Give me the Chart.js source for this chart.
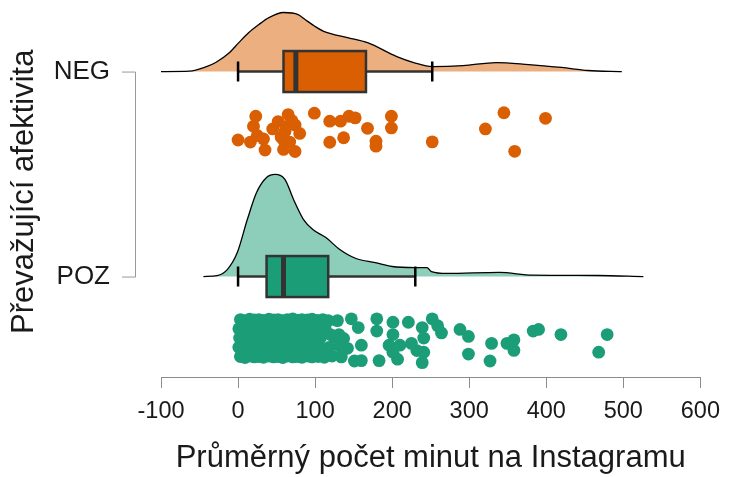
<!DOCTYPE html>
<html>
<head>
<meta charset="utf-8">
<script src="https://cdn.jsdelivr.net/npm/chart.js@4"></script>
<style>
  body { margin: 0; background: #ffffff; }
  #wrap { width: 729px; height: 477px; }
</style>
</head>
<body>
<div id="wrap"><canvas id="rain"></canvas></div>
<script>
// Raincloud: density + box + jittered points, per group

const groups = ["NEG", "POZ"];
const xTickValues = [-100, 0, 100, 200, 300, 400, 500, 600];

// half-violin density (height in group-spacing units)
const negDensityX = [-100, -63, -41, -29, -11, 1, 14, 27, 40, 59, 78, 87, 100, 112, 142, 168, 206, 228, 252, 292, 335, 377, 420, 454, 498];
const negDensityY = [0, 0.002, 0.024, 0.044, 0.093, 0.141, 0.19, 0.229, 0.263, 0.288, 0.278, 0.254, 0.22, 0.195, 0.166, 0.141, 0.073, 0.044, 0.024, 0.029, 0.044, 0.034, 0.02, 0.005, 0];
const pozDensityX = [-45, -27, -14, -1, 12, 24, 37, 48, 61, 72, 85, 97, 114, 132, 153, 178, 200, 230, 245, 251, 271, 339, 382, 467, 526];
const pozDensityY = [0, 0.005, 0.034, 0.117, 0.278, 0.41, 0.483, 0.498, 0.473, 0.376, 0.278, 0.229, 0.19, 0.132, 0.088, 0.068, 0.049, 0.044, 0.044, 0.024, 0.015, 0.02, 0.007, 0.005, 0];

// box: [lower whisker, Q1, median, Q3, upper whisker]
const negBox = [0, 59, 75, 166, 252];
const pozBox = [0, 37, 59, 117, 230];

// raw points (minutes) and their jitter
const negMinutes = [23, 20, 0, 16, 33, 35, 25, 52, 65, 74, 61, 80, 59, 59, 74, 67, 63, 45, 56, 70, 99, 119, 133, 144, 152, 119, 137, 168, 179, 179, 199, 199, 252, 321, 345, 359, 399];
const negJitter = [0.082, 0.033, -0.034, -0.044, -0.029, -0.083, -0.012, 0.056, 0.09, 0.039, 0.009, -0.002, -0.034, -0.08, -0.09, -0.044, 0.033, 0.02, -0.02, 0.06, 0.097, 0.058, 0.058, 0.082, 0.074, -0.045, -0.023, 0.023, -0.04, -0.064, 0.082, 0.025, -0.043, 0.02, 0.099, -0.089, 0.072];

const pozMinutes = [
  3, 9, 15, 21, 27, 33, 40, 46, 52, 58, 64, 71, 77, 83, 90, 96, 103, 110,
  1, 7, 13, 19, 25, 31, 37, 43, 49, 55, 61, 68, 74, 80, 86, 93, 99, 106, 113,
  2, 8, 14, 20, 26, 32, 38, 44, 50, 56, 62, 69, 75, 81, 87, 94, 100, 107, 125, 137,
  1, 7, 13, 19, 25, 31, 37, 43, 49, 55, 61, 68, 74, 80, 86, 93, 99, 108, 118, 132, 142,
  3, 9, 15, 21, 27, 33, 40, 46, 52, 58, 64, 71, 77, 83, 90, 96, 104, 112, 122, 134,
  117, 129, 147, 156, 180, 120, 131, 160, 151, 160, 180, 183, 201, 201, 196, 207, 201, 221, 210, 225,
  239, 241, 239, 241, 232, 252, 264, 259, 288, 299, 299, 329, 327, 349, 358, 358, 383, 390, 419, 479, 468
];
const pozJitter = [
  0.09, 0.085, 0.092, 0.088, 0.09, 0.086, 0.092, 0.088, 0.09, 0.085, 0.09, 0.093, 0.087, 0.09, 0.088, 0.092, 0.086, 0.09,
  0.045, 0.05, 0.042, 0.048, 0.044, 0.05, 0.046, 0.04, 0.047, 0.05, 0.043, 0.048, 0.045, 0.05, 0.042, 0.047, 0.044, 0.05, 0.046,
  0, 0.005, -0.004, 0.002, -0.003, 0.004, 0, -0.005, 0.003, 0, 0.004, -0.002, 0.002, -0.004, 0.003, 0, -0.003, 0.002, 0.004, -0.002,
  -0.045, -0.05, -0.042, -0.048, -0.044, -0.05, -0.046, -0.04, -0.047, -0.05, -0.043, -0.048, -0.045, -0.05, -0.042, -0.047, -0.044, -0.05, -0.046, -0.04, -0.05,
  -0.09, -0.095, -0.088, -0.092, -0.09, -0.094, -0.088, -0.092, -0.09, -0.095, -0.088, -0.092, -0.09, -0.094, -0.088, -0.092, -0.09, -0.094, -0.088, -0.092,
  0.085, 0.085, 0.094, 0.051, 0.094, 0.017, 0.017, -0.035, -0.112, -0.11, 0.034, -0.11, 0.077, 0.017, -0.035, -0.103, -0.069, 0.077, -0.035, -0.026,
  0.051, 0, -0.12, -0.069, -0.061, 0.094, 0.025, 0.06, 0.042, 0.008, -0.078, -0.026, -0.112, -0.026, -0.009, -0.06, 0.034, 0.042, 0.017, 0.017, -0.069
];

const NEG_DARK = "#d95f02", NEG_LIGHT = "#ecaf80";
const POZ_DARK = "#1b9e77", POZ_LIGHT = "#8dcebb";
const RAIN_OFFSET = 0.30;
const BOX_HALF = 0.1;
const FONT = "'Liberation Sans', Arial, sans-serif";
const TEXT = "#1a1a1a";

function cloud(xs, ys, base) {
  return xs.map((x, i) => ({ x: x, y: base + ys[i] }));
}
function rain(xs, js, base) {
  return xs.map((x, i) => ({ x: x, y: base - RAIN_OFFSET + js[i] }));
}

const boxes = [
  { base: 1, stats: negBox, fill: NEG_DARK },
  { base: 0, stats: pozBox, fill: POZ_DARK },
];

const boxPlugin = {
  id: "boxes",
  afterDatasetsDraw(chart) {
    const { ctx, scales: { x, y } } = chart;
    ctx.save();
    boxes.forEach((b) => {
      const [lo, q1, med, q3, hi] = b.stats.map((v) => x.getPixelForValue(v));
      const yc = y.getPixelForValue(b.base);
      const yt = y.getPixelForValue(b.base + BOX_HALF);
      const yb = y.getPixelForValue(b.base - BOX_HALF);
      // whiskers
      ctx.strokeStyle = "#333333";
      ctx.lineWidth = 2.5;
      ctx.beginPath();
      ctx.moveTo(lo, yc); ctx.lineTo(q1, yc);
      ctx.moveTo(q3, yc); ctx.lineTo(hi, yc);
      ctx.stroke();
      ctx.strokeStyle = "#000000";
      ctx.beginPath();
      ctx.moveTo(lo, yc - 10); ctx.lineTo(lo, yc + 10);
      ctx.moveTo(hi, yc - 10); ctx.lineTo(hi, yc + 10);
      ctx.stroke();
      // box
      ctx.fillStyle = b.fill;
      ctx.fillRect(q1, yt, q3 - q1, yb - yt);
      ctx.strokeStyle = "#333333";
      ctx.lineWidth = 2.5;
      ctx.strokeRect(q1, yt, q3 - q1, yb - yt);
      ctx.lineWidth = 5;
      ctx.beginPath();
      ctx.moveTo(med, yt); ctx.lineTo(med, yb);
      ctx.stroke();
    });
    // group bracket on the y side
    const xb = chart.chartArea.left - 26;
    const y1 = y.getPixelForValue(1), y0 = y.getPixelForValue(0);
    ctx.strokeStyle = "#999999";
    ctx.lineWidth = 1;
    ctx.beginPath();
    ctx.moveTo(xb - 13, y1 + 0.5); ctx.lineTo(xb + 0.5, y1 + 0.5);
    ctx.lineTo(xb + 0.5, y0 + 0.5); ctx.lineTo(xb - 13, y0 + 0.5);
    ctx.stroke();
    ctx.restore();
  },
};

const ctx = document.getElementById("rain");

new Chart(ctx, {
  type: "scatter",
  data: {
    datasets: [
      {
        label: "NEG cloud",
        data: cloud(negDensityX, negDensityY, 1),
        showLine: true,
        fill: { value: 1 },
        clip: false,
        backgroundColor: NEG_LIGHT,
        borderColor: "#000000",
        borderWidth: 1.3,
        pointRadius: 0,
        cubicInterpolationMode: "monotone",
      },
      {
        label: "POZ cloud",
        data: cloud(pozDensityX, pozDensityY, 0),
        showLine: true,
        fill: { value: 0 },
        clip: false,
        backgroundColor: POZ_LIGHT,
        borderColor: "#000000",
        borderWidth: 1.3,
        pointRadius: 0,
        cubicInterpolationMode: "monotone",
      },
      {
        label: "NEG",
        data: rain(negMinutes, negJitter, 1),
        backgroundColor: NEG_DARK,
        pointRadius: 6.4,
        pointBorderWidth: 0,
      },
      {
        label: "POZ",
        data: rain(pozMinutes, pozJitter, 0),
        backgroundColor: POZ_DARK,
        pointRadius: 6.4,
        pointBorderWidth: 0,
      },
    ],
  },
  options: {
    responsive: true,
    maintainAspectRatio: false,
    animation: false,
    layout: { autoPadding: false, padding: { top: 0, right: 22, bottom: 0, left: 0 } },
    plugins: {
      legend: { display: false },
      tooltip: { enabled: false },
    },
    scales: {
      x: {
        type: "linear",
        min: -100,
        max: 600,
        afterBuildTicks: (s) => { s.ticks = xTickValues.map((v) => ({ value: v })); },
        afterFit: (s) => { s.height = 100; },
        ticks: { color: TEXT, font: { family: FONT, size: 23.5 }, padding: 9, maxRotation: 0 },
        grid: { drawOnChartArea: false, tickLength: 11, color: "#8c8c8c" },
        border: { display: true, color: "#8c8c8c" },
        title: {
          display: true,
          text: "Průměrný počet minut na Instagramu",
          color: TEXT,
          font: { family: FONT, size: 31 },
          padding: { top: 0, bottom: 0 },
        },
      },
      y: {
        type: "linear",
        min: -0.49,
        max: 1.3173,
        afterBuildTicks: (s) => { s.ticks = [{ value: 0 }, { value: 1 }]; },
        afterFit: (s) => { s.width = 161; },
        ticks: {
          color: TEXT,
          font: { family: FONT, size: 26, lineHeight: 0.5 },
          padding: 0,
          callback: (v) => (v === 1 ? groups[0] : groups[1]),
        },
        grid: { display: true, drawOnChartArea: false, tickLength: 51, color: "rgba(0,0,0,0)" },
        border: { display: false },
        title: {
          display: true,
          text: "Převažující afektivita",
          color: TEXT,
          font: { family: FONT, size: 31 },
          padding: { top: 6, bottom: 0 },
        },
      },
    },
  },
  plugins: [boxPlugin],
});
</script>
</body>
</html>
